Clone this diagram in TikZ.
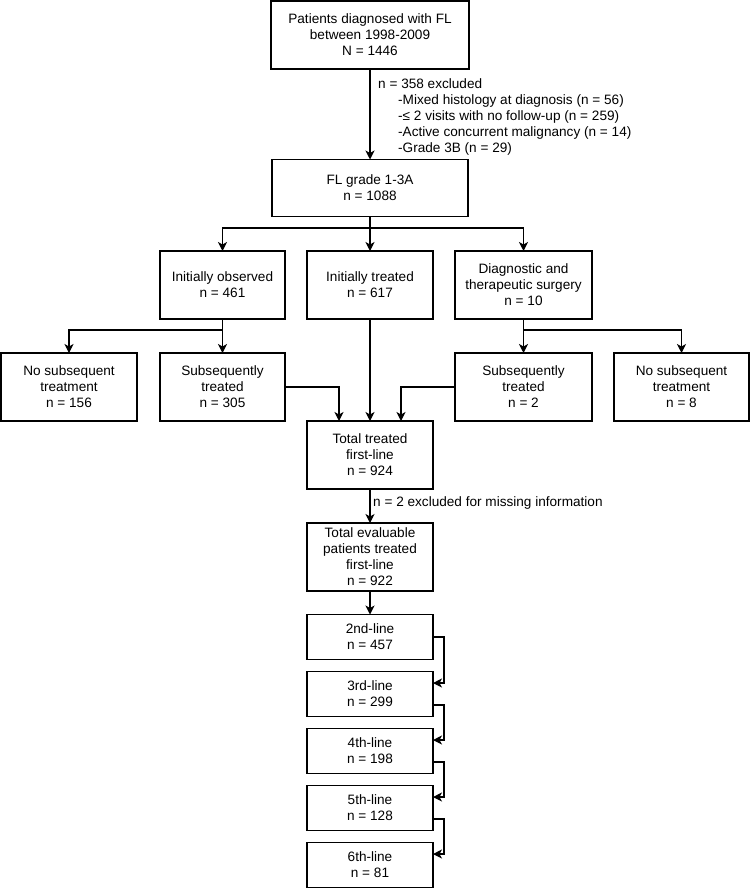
\documentclass[tikz,border=0pt]{standalone}
\usepackage{fontspec}
\setmainfont{Liberation Sans}
\usepackage{tikz}
\usetikzlibrary{arrows.meta}

\begin{document}
\begin{tikzpicture}[x=1pt, y=-1pt, font=\fontsize{13.6}{16}\selectfont,
    box/.style={draw, line width=1.1pt, outer sep=0pt, inner sep=2pt, align=center, minimum height=68pt},
    linebox/.style={box, minimum height=45pt, minimum width=126pt},
    arr/.style={line width=1.1pt, -{Stealth[length=9pt,width=9pt,inset=2.5pt]}},
    conn/.style={line width=1.1pt}]
    \useasboundingbox (0,0) rectangle (751,888);

    % Screening
    \node[box, minimum width=198pt] (top) at (370,35) {Patients diagnosed with FL\\between 1998-2009\\N = 1446};
    \node[box, minimum width=196pt, minimum height=57pt] (fl) at (370,188) {FL grade 1-3A\\n = 1088};
    \draw[arr] (top) -- (fl);
    \node[anchor=north west, align=left, inner sep=0pt] (excl) at (378,78) {n = 358 excluded\\
        \hspace*{20pt}-Mixed histology at diagnosis (n = 56)\\
        \hspace*{20pt}-≤ 2 visits with no follow-up (n = 259)\\
        \hspace*{20pt}-Active concurrent malignancy (n = 14)\\
        \hspace*{20pt}-Grade 3B (n = 29)};

    % Initial management
    \node[box, minimum width=125pt] (obs) at (222.5,285) {Initially observed\\n = 461};
    \node[box, minimum width=126pt] (trt) at (370,285) {Initially treated\\n = 617};
    \node[box, minimum width=137pt] (surg) at (523.5,285) {Diagnostic and\\therapeutic surgery\\n = 10};
    \coordinate (split) at (370,228);
    \draw[conn] (fl) -- (split);
    \draw[arr] (split) -- (trt);
    \draw[arr] (split) -| (obs.north);
    \draw[arr] (split) -| (surg.north);

    % Subsequent treatment
    \node[box, minimum width=136pt] (nosubA) at (69,387) {No subsequent\\treatment\\n = 156};
    \node[box, minimum width=125pt] (subA) at (222.5,387) {Subsequently\\treated\\n = 305};
    \node[box, minimum width=137pt] (subB) at (523.5,387) {Subsequently\\treated\\n = 2};
    \node[box, minimum width=135pt] (nosubB) at (681.5,387) {No subsequent\\treatment\\n = 8};
    \coordinate (obssplit) at (222.5,330);
    \coordinate (surgsplit) at (523.5,330);
    \draw[conn] (obs) -- (obssplit);
    \draw[arr] (obssplit) -- (subA);
    \draw[arr] (obssplit) -| (nosubA.north);
    \draw[conn] (surg) -- (surgsplit);
    \draw[arr] (surgsplit) -- (subB);
    \draw[arr] (surgsplit) -| (nosubB.north);

    % First-line
    \node[box, minimum width=126pt] (tot) at (370,455) {Total treated\\first-line\\n = 924};
    \draw[arr] (subA.east) -| ([xshift=-31pt]tot.north);
    \draw[arr] (trt) -- (tot);
    \draw[arr] (subB.west) -| ([xshift=31pt]tot.north);
    \node[box, minimum width=126pt] (eval) at (370,557) {Total evaluable\\patients treated\\first-line\\n = 922};
    \draw[arr] (tot) -- (eval);
    \node[anchor=west, inner sep=0pt] (miss) at (373,503) {n = 2 excluded for missing information};

    % Later lines
    \node[linebox] (lineB) at (370,637) {2nd-line\\n = 457};
    \node[linebox] (lineC) at (370,694) {3rd-line\\n = 299};
    \node[linebox] (lineD) at (370,751) {4th-line\\n = 198};
    \node[linebox] (lineE) at (370,808) {5th-line\\n = 128};
    \node[linebox] (lineF) at (370,865) {6th-line\\n = 81};
    \draw[arr] (eval) -- (lineB);
    \draw[arr] (lineB.east) -- ++(11,0) |- ([yshift=11pt]lineC.east);
    \draw[arr] ([yshift=-11pt]lineC.east) -- ++(11,0) |- ([yshift=11pt]lineD.east);
    \draw[arr] ([yshift=-11pt]lineD.east) -- ++(11,0) |- ([yshift=11pt]lineE.east);
    \draw[arr] ([yshift=-11pt]lineE.east) -- ++(11,0) |- ([yshift=11pt]lineF.east);
\end{tikzpicture}
\end{document}
